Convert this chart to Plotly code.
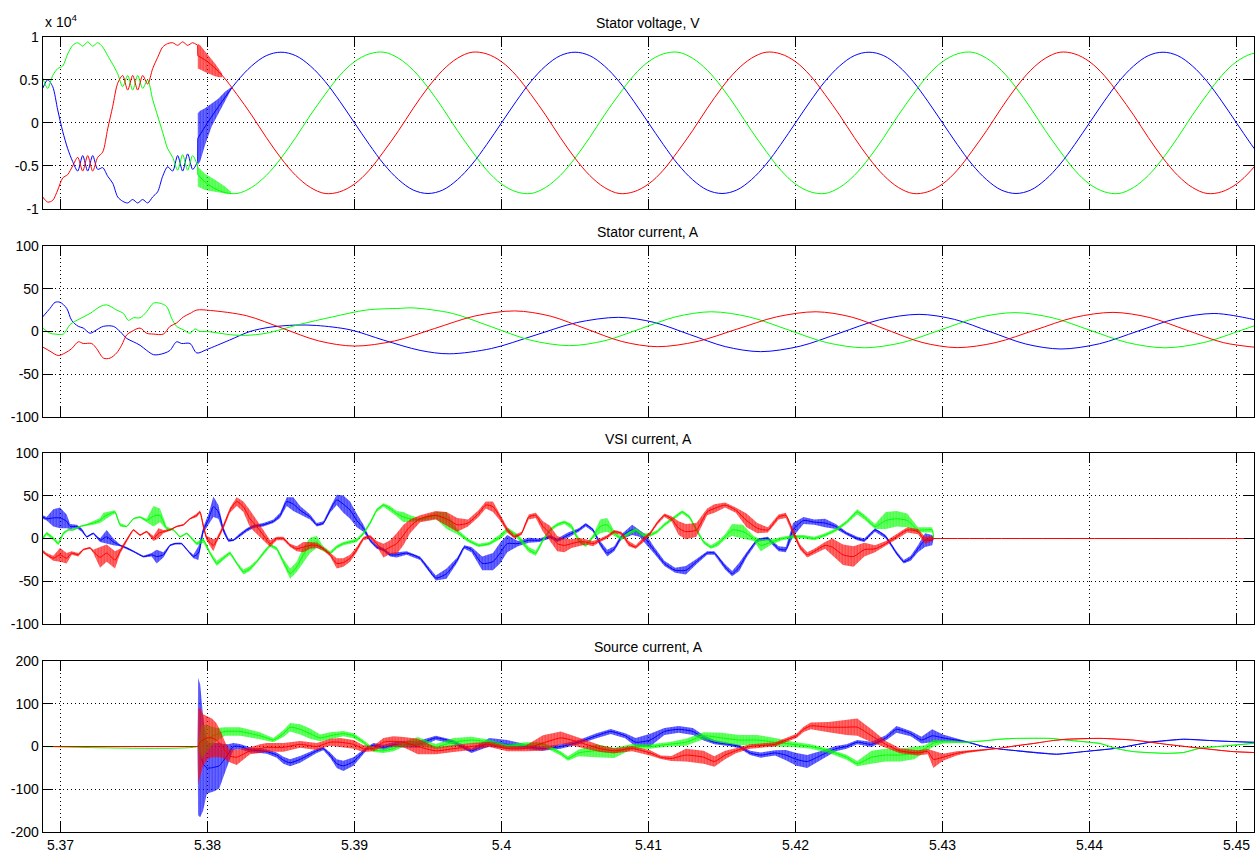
import plotly.graph_objects as go

# ---------------- data (time in s) ----------------
X_TICKS = [5.37, 5.38, 5.39, 5.40, 5.41, 5.42, 5.43, 5.44, 5.45]
X_TICK_LABELS = ["5.37", "5.38", "5.39", "5.4", "5.41", "5.42", "5.43", "5.44", "5.45"]
TITLES = ["Stator voltage, V", "Stator current, A", "VSI current, A", "Source current, A"]

# Panel 1: stator voltage (x 10^4 V)
V_PRE_T = [5.36879, 5.36913, 5.36947, 5.36981, 5.37015, 5.37049, 5.37083, 5.37117, 5.37151, 5.37185,
           5.37219, 5.37253, 5.37287, 5.37321, 5.37355, 5.37389, 5.37423, 5.37457, 5.37491, 5.37525,
           5.37559, 5.37593, 5.37627, 5.37661, 5.37695, 5.37729, 5.37763, 5.37797, 5.37831, 5.37865,
           5.37899, 5.37933]
V_PRE_BLUE = [0.40, 0.50, 0.42, 0.15, -0.10, -0.30, -0.45, -0.56, -0.38, -0.56, -0.38, -0.54, -0.52, -0.62,
              -0.70, -0.86, -0.91, -0.93, -0.89, -0.93, -0.89, -0.93, -0.86, -0.80, -0.62, -0.51, -0.56,
              -0.38, -0.56, -0.36, -0.54, -0.45]
V_PRE_GREEN = [0.52, 0.40, 0.55, 0.63, 0.66, 0.80, 0.90, 0.93, 0.89, 0.94, 0.89, 0.93, 0.88, 0.78, 0.68,
               0.57, 0.42, 0.55, 0.38, 0.55, 0.40, 0.50, 0.27, 0.08, -0.11, -0.30, -0.40, -0.55, -0.37,
               -0.55, -0.38, -0.50]
V_PRE_RED = [-0.86, -0.92, -0.90, -0.78, -0.64, -0.60, -0.50, -0.40, -0.56, -0.38, -0.56, -0.40, -0.34,
             -0.07, 0.19, 0.46, 0.55, 0.38, 0.55, 0.38, 0.55, 0.45, 0.63, 0.76, 0.88, 0.92, 0.93, 0.90,
             0.94, 0.90, 0.93, 0.90]

V_T = [5.37934] + [round(5.380 + 0.001 * k, 3) for k in range(73)]
V_BLUE = [-0.18,
          0, 0.25, 0.48, 0.66, 0.78, 0.82, 0.78, 0.66, 0.48, 0.25, 0, -0.25, -0.48, -0.66, -0.78, -0.82, -0.78, -0.66, -0.48, -0.25,
          0, 0.25, 0.48, 0.66, 0.78, 0.82, 0.78, 0.66, 0.48, 0.25, 0, -0.25, -0.48, -0.66, -0.78, -0.82, -0.78, -0.66, -0.48, -0.25,
          0, 0.25, 0.48, 0.66, 0.78, 0.82, 0.78, 0.66, 0.48, 0.25, 0, -0.25, -0.48, -0.66, -0.78, -0.82, -0.78, -0.66, -0.48, -0.25,
          0, 0.25, 0.48, 0.66, 0.78, 0.82, 0.78, 0.66, 0.48, 0.25, 0, -0.25, -0.48]
V_GREEN = [-0.60,
           -0.71, -0.80, -0.82, -0.75, -0.61, -0.41, -0.17, 0.09, 0.33, 0.55, 0.71, 0.80, 0.82, 0.75, 0.61, 0.41, 0.17, -0.09, -0.33, -0.55,
           -0.71, -0.80, -0.82, -0.75, -0.61, -0.41, -0.17, 0.09, 0.33, 0.55, 0.71, 0.80, 0.82, 0.75, 0.61, 0.41, 0.17, -0.09, -0.33, -0.55,
           -0.71, -0.80, -0.82, -0.75, -0.61, -0.41, -0.17, 0.09, 0.33, 0.55, 0.71, 0.80, 0.82, 0.75, 0.61, 0.41, 0.17, -0.09, -0.33, -0.55,
           -0.71, -0.80, -0.82, -0.75, -0.61, -0.41, -0.17, 0.09, 0.33, 0.55, 0.71, 0.80, 0.82]
V_RED = [0.78,
         0.71, 0.55, 0.33, 0.09, -0.17, -0.41, -0.61, -0.75, -0.82, -0.80, -0.71, -0.55, -0.33, -0.09, 0.17, 0.41, 0.61, 0.75, 0.82, 0.80,
         0.71, 0.55, 0.33, 0.09, -0.17, -0.41, -0.61, -0.75, -0.82, -0.80, -0.71, -0.55, -0.33, -0.09, 0.17, 0.41, 0.61, 0.75, 0.82, 0.80,
         0.71, 0.55, 0.33, 0.09, -0.17, -0.41, -0.61, -0.75, -0.82, -0.80, -0.71, -0.55, -0.33, -0.09, 0.17, 0.41, 0.61, 0.75, 0.82, 0.80,
         0.71, 0.55, 0.33, 0.09, -0.17, -0.41, -0.61, -0.75, -0.82, -0.80, -0.71, -0.55, -0.33]
# switching transients (ripple envelopes)
VB_BAND_T = [5.37934, 5.37950, 5.37983, 5.38029, 5.38073, 5.38119, 5.38165]
VB_BAND_UP = [0.11, 0.14, 0.17, 0.23, 0.28, 0.36, 0.42]
VB_BAND_LO = [-0.49, -0.45, -0.26, -0.04, 0.11, 0.25, 0.40]
VG_BAND_T = [5.37934, 5.37983, 5.38051, 5.38119, 5.38160]
VG_BAND_UP = [-0.51, -0.59, -0.66, -0.74, -0.80]
VG_BAND_LO = [-0.74, -0.78, -0.80, -0.82, -0.83]
VR_BAND_T = [5.37934, 5.37950, 5.37983, 5.38020, 5.38051, 5.38080, 5.38100]
VR_BAND_UP = [0.92, 0.90, 0.83, 0.76, 0.69, 0.62, 0.57]
VR_BAND_LO = [0.63, 0.62, 0.59, 0.56, 0.54, 0.53, 0.53]

# Panel 2: stator current (A)
I_BLUE_T = [5.36879, 5.36929, 5.36963, 5.36997, 5.37042, 5.37076, 5.37121, 5.37155, 5.37201, 5.37246,
            5.37292, 5.37360, 5.37405, 5.37450, 5.37496, 5.37541, 5.37586, 5.37632, 5.37666, 5.37711,
            5.37745, 5.37790, 5.37824, 5.37881, 5.37927, 5.37995, 5.38150, 5.38289, 5.38425, 5.38600,
            5.38743, 5.38970, 5.39197, 5.39446, 5.39644, 5.39932, 5.40221, 5.40509, 5.40797, 5.41039,
            5.41280, 5.41522, 5.41763, 5.42032, 5.42302, 5.42571, 5.42840, 5.43082, 5.43323, 5.43565,
            5.43806, 5.44067, 5.44327, 5.44588, 5.44848, 5.45090, 5.45160]
I_BLUE = [17, 27, 34, 34, 27, 13, 6, 4, -2, 2, 6, 6, 0, -8, -12, -16, -22, -27, -27, -25,
          -22, -12, -14, -14, -25, -21, -10, 0, 5, 7.5, 7, 2, -10, -22, -26, -19.8, -4.75, 10.3, 16.5, 10.6,
          -3.5, -17.6, -23.5, -17.1, -1.75, 13.6, 20, 14.1, -0.2, -14.5, -20.4, -14.3, 0.3, 14.9, 21, 15, 12]
I_GREEN_T = [5.36879, 5.36929, 5.36963, 5.37019, 5.37065, 5.37133, 5.37201, 5.37269, 5.37314, 5.37382,
             5.37428, 5.37462, 5.37496, 5.37541, 5.37586, 5.37632, 5.37677, 5.37722, 5.37757, 5.37790,
             5.37836, 5.37881, 5.37915, 5.37949, 5.37995, 5.38170, 5.38260, 5.38400, 5.38620, 5.38850,
             5.39080, 5.39310, 5.39400, 5.39666, 5.39931, 5.40197, 5.40462, 5.40704, 5.40946, 5.41187,
             5.41429, 5.41689, 5.41949, 5.42209, 5.42469, 5.42725, 5.42981, 5.43236, 5.43492, 5.43748,
             5.44003, 5.44259, 5.44514, 5.44774, 5.45034, 5.45160]
I_GREEN = [4, -2, -3, -3, 8, 15, 21, 29, 31, 25, 21, 13, 16, 16, 23, 33, 33, 29, 15, 6,
           2, -2, 3, 0, 0, -4, -4.5, -2, 8, 17, 25, 27, 27.5, 21.1, 5.5, -10.1, -16.5, -10.7, 3.25, 17.2,
           23, 16.8, 2, -12.8, -19, -13, 1.5, 16, 22, 16, 1.5, -13, -19, -13, 1.5, 9]
I_RED_T = [5.36879, 5.36929, 5.36985, 5.37031, 5.37076, 5.37121, 5.37155, 5.37212, 5.37246, 5.37292,
           5.37337, 5.37382, 5.37416, 5.37450, 5.37484, 5.37541, 5.37586, 5.37632, 5.37700, 5.37745,
           5.37790, 5.37836, 5.37881, 5.37927, 5.38020, 5.38265, 5.38510, 5.38755, 5.39000, 5.39273,
           5.39545, 5.39818, 5.40090, 5.40333, 5.40575, 5.40818, 5.41060, 5.41330, 5.41600, 5.41870,
           5.42140, 5.42380, 5.42620, 5.42860, 5.43100, 5.43365, 5.43630, 5.43895, 5.44160, 5.44410,
           5.44660, 5.44910, 5.45160]
I_RED = [-18, -23, -28, -25, -20, -12, -14, -14, -20, -31, -31, -25, -16, -4, 0, 4, -2, -3, -3, 6,
         10, 17, 21, 25, 24.5, 18.4, 3.75, -10.9, -17, -11, 3.5, 18, 24, 17.9, 3.15, -11.6, -17.7, -11.7, 2.65, 17,
         23, 16.9, 2.1, -12.7, -18.8, -12.8, 1.75, 16.3, 22.3, 16.25, 1.65, -12.95, -19]

# Panel 3: VSI current (A) -- centre value and ripple half-width
VSI_BLUE_T = [5.36879, 5.36906, 5.36951, 5.36997, 5.37042, 5.37065, 5.37110, 5.37144, 5.37178, 5.37223,
              5.37269, 5.37314, 5.37360, 5.37405, 5.37450, 5.37496, 5.37564, 5.37620, 5.37654, 5.37700,
              5.37745, 5.37779, 5.37824, 5.37870, 5.37904, 5.37938, 5.37972, 5.38006, 5.38040, 5.38074,
              5.38108, 5.38142, 5.38176, 5.38221, 5.38267, 5.38312, 5.38380, 5.38448, 5.38494, 5.38539,
              5.38584, 5.38630, 5.38698, 5.38743, 5.38788, 5.38834, 5.38879, 5.38924, 5.38970, 5.39015,
              5.39061, 5.39106, 5.39151, 5.39197, 5.39242, 5.39287, 5.39355, 5.39446, 5.39553, 5.39626,
              5.39699, 5.39747, 5.39796, 5.39869, 5.39942, 5.39990, 5.40039, 5.40112, 5.40185, 5.40258,
              5.40330, 5.40379, 5.40452, 5.40525, 5.40573, 5.40622, 5.40671, 5.40719, 5.40767, 5.40816,
              5.40889, 5.40938, 5.40986, 5.41035, 5.41108, 5.41181, 5.41254, 5.41326, 5.41399, 5.41448,
              5.41521, 5.41569, 5.41618, 5.41667, 5.41740, 5.41812, 5.41885, 5.41934, 5.41983, 5.42055,
              5.42128, 5.42201, 5.42274, 5.42347, 5.42420, 5.42468, 5.42541, 5.42614, 5.42687, 5.42736,
              5.42784, 5.42833, 5.42881, 5.42930, 5.42940]
VSI_BLUE = [25, 23, 24, 24, 20, 14, 14, 10, 2, 6, -2, 2, -4, -8, -11, -15, -21, -19, -21, -19,
            -8, -6, -6, -15, -21, -17, 10, 22, 37, 31, 10, -2, -2, 4, 10, 14, 16, 20, 27, 43,
            40, 33, 25, 16, 18, 33, 45, 40, 33, 21, 12, -2, -10, -13, -19, -19, -17, -23, -46, -41,
            -25, -10, -13, -29, -27, -17, -6, -6, -2, -2, 2, -2, 4, 10, 16, 10, -6, -17, -12, 2,
            10, 6, -2, -13, -29, -37, -37, -27, -17, -17, -33, -41, -33, -19, -2, 0, -12, -13, 10, 21,
            19, 18, 14, 6, 0, -2, 10, 2, -17, -27, -23, -12, -2, -2, 0]
VSI_BLUE_HW = [2, 2, 10, 12, 8, 3, 2, 2, 1, 1, 2, 8, 4, 1, 1, 1, 1, 2, 8, 3,
               1, 1, 1, 1, 2, 8, 4, 6, 12, 8, 3, 2, 1, 2, 2, 2, 2, 2, 3, 5,
               8, 5, 3, 2, 2, 3, 6, 10, 10, 8, 4, 2, 2, 2, 2, 3, 2, 2, 3, 6,
               3, 2, 3, 8, 10, 12, 10, 3, 3, 2, 2, 2, 3, 2, 2, 2, 3, 4, 3, 3,
               6, 4, 6, 4, 3, 3, 5, 3, 2, 2, 3, 3, 5, 3, 2, 2, 3, 3, 8, 4,
               3, 5, 3, 2, 2, 2, 2, 2, 2, 2, 3, 4, 8, 6, 0]
VSI_GREEN_T = [5.36879, 5.36906, 5.36951, 5.36985, 5.37019, 5.37053, 5.37087, 5.37133, 5.37178, 5.37223,
               5.37269, 5.37292, 5.37337, 5.37371, 5.37405, 5.37450, 5.37496, 5.37541, 5.37586, 5.37632,
               5.37677, 5.37722, 5.37768, 5.37813, 5.37859, 5.37893, 5.37927, 5.37972, 5.38017, 5.38063,
               5.38108, 5.38153, 5.38199, 5.38244, 5.38289, 5.38335, 5.38380, 5.38426, 5.38471, 5.38516,
               5.38562, 5.38607, 5.38652, 5.38698, 5.38743, 5.38788, 5.38834, 5.38879, 5.38924, 5.38970,
               5.39015, 5.39061, 5.39106, 5.39151, 5.39197, 5.39242, 5.39287, 5.39333, 5.39378, 5.39446,
               5.39553, 5.39626, 5.39699, 5.39772, 5.39844, 5.39917, 5.39990, 5.40039, 5.40112, 5.40185,
               5.40233, 5.40282, 5.40330, 5.40379, 5.40428, 5.40476, 5.40525, 5.40573, 5.40622, 5.40671,
               5.40719, 5.40767, 5.40816, 5.40865, 5.40913, 5.40962, 5.41011, 5.41059, 5.41108, 5.41181,
               5.41229, 5.41278, 5.41326, 5.41375, 5.41424, 5.41472, 5.41521, 5.41569, 5.41642, 5.41715,
               5.41764, 5.41837, 5.41910, 5.41983, 5.42055, 5.42128, 5.42201, 5.42274, 5.42347, 5.42420,
               5.42468, 5.42541, 5.42614, 5.42687, 5.42760, 5.42833, 5.42881, 5.42930, 5.42940]
VSI_GREEN = [0, 6, 0, -6, 6, 10, 10, 14, 16, 18, 21, 25, 29, 31, 16, 14, 23, 25, 21, 26,
             27, 12, 10, 2, 6, 0, -6, -2, -17, -29, -23, -17, -29, -39, -35, -27, -17, -8, -12, -27,
             -41, -33, -19, -8, -4, -12, -17, -10, -6, -4, -2, 6, 18, 33, 39, 35, 29, 25, 23, 22,
             27, 21, 8, -2, -8, -6, 2, 10, 2, -13, -17, -2, 10, 16, 19, 14, -2, -8, 2, 14,
             16, 6, 0, 6, 10, 4, 4, 8, 16, 25, 31, 25, 10, -4, -10, -6, 2, 10, 8, 0,
             -8, -4, 0, 2, 2, 0, 4, 10, 19, 31, 25, 14, 21, 23, 21, 10, 10, 10, 0]
VSI_GREEN_HW = [2, 2, 2, 2, 2, 1, 1, 1, 1, 2, 3, 5, 3, 2, 2, 1, 1, 1, 2, 12,
                8, 2, 1, 1, 1, 1, 2, 3, 2, 3, 2, 2, 2, 3, 3, 2, 2, 2, 2, 3,
                6, 6, 9, 9, 7, 3, 2, 2, 2, 2, 2, 2, 2, 2, 2, 3, 3, 6, 4, 2,
                4, 10, 3, 2, 2, 2, 3, 3, 3, 3, 3, 2, 2, 2, 2, 3, 3, 2, 2, 8,
                8, 3, 2, 2, 2, 2, 2, 2, 2, 2, 2, 2, 2, 2, 2, 3, 3, 7, 8, 3,
                7, 3, 2, 2, 2, 2, 2, 2, 2, 3, 3, 3, 10, 9, 8, 3, 3, 3, 0]
VSI_RED_T = [5.36879, 5.36906, 5.36951, 5.36997, 5.37042, 5.37076, 5.37121, 5.37155, 5.37201, 5.37223,
             5.37269, 5.37314, 5.37371, 5.37405, 5.37450, 5.37496, 5.37541, 5.37586, 5.37632, 5.37666,
             5.37700, 5.37745, 5.37790, 5.37836, 5.37881, 5.37927, 5.37949, 5.37972, 5.37995, 5.38040,
             5.38063, 5.38108, 5.38153, 5.38199, 5.38244, 5.38289, 5.38335, 5.38380, 5.38426, 5.38471,
             5.38516, 5.38562, 5.38607, 5.38652, 5.38698, 5.38743, 5.38788, 5.38834, 5.38879, 5.38924,
             5.38970, 5.39015, 5.39061, 5.39106, 5.39151, 5.39197, 5.39242, 5.39287, 5.39333, 5.39378,
             5.39446, 5.39553, 5.39626, 5.39699, 5.39772, 5.39844, 5.39893, 5.39942, 5.39990, 5.40039,
             5.40087, 5.40136, 5.40185, 5.40233, 5.40282, 5.40330, 5.40379, 5.40428, 5.40476, 5.40525,
             5.40573, 5.40622, 5.40671, 5.40719, 5.40767, 5.40816, 5.40865, 5.40913, 5.40962, 5.41011,
             5.41059, 5.41108, 5.41156, 5.41205, 5.41254, 5.41326, 5.41399, 5.41448, 5.41521, 5.41594,
             5.41667, 5.41740, 5.41812, 5.41885, 5.41934, 5.41983, 5.42031, 5.42080, 5.42128, 5.42201,
             5.42250, 5.42323, 5.42395, 5.42468, 5.42541, 5.42614, 5.42687, 5.42760, 5.42833, 5.42881,
             5.42930, 5.42940, 5.45200]
VSI_RED = [-15, -19, -23, -19, -23, -17, -19, -13, -11, -15, -22, -17, -25, -15, -2, 10, 4, 8, 0, 6,
           8, 10, 14, 16, 23, 27, 31, 14, 0, -8, -2, 14, 33, 43, 37, 23, 14, 4, -6, 0,
           0, -8, -12, -10, -8, -8, -12, -19, -29, -28, -23, -13, 0, 2, -6, -14, -10, -6, 4, 14,
           23, 27, 23, 16, 18, 29, 39, 37, 25, 10, 2, 6, 25, 27, 14, 6, -6, -8, -6, -4,
           -4, -6, -2, 2, 8, 6, -6, -10, -2, 6, 18, 27, 23, 12, 8, 10, 31, 35, 39, 33,
           21, 12, 10, 25, 27, 8, -10, -19, -15, -8, -10, -19, -21, -13, -12, -6, 2, 10, 8, -2,
           0, 0, 0]
VSI_RED_HW = [2, 2, 3, 8, 6, 2, 2, 1, 1, 2, 12, 10, 10, 3, 2, 1, 1, 1, 3, 6,
              2, 1, 1, 1, 1, 2, 2, 3, 3, 7, 3, 3, 3, 5, 6, 10, 8, 6, 4, 2,
              2, 2, 3, 6, 4, 3, 2, 2, 6, 5, 4, 3, 2, 2, 3, 8, 8, 12, 12, 8,
              4, 5, 8, 8, 4, 4, 4, 6, 4, 3, 2, 2, 3, 3, 6, 9, 9, 8, 5, 5,
              3, 3, 2, 2, 2, 2, 3, 2, 3, 2, 2, 2, 3, 8, 9, 8, 4, 5, 3, 3,
              8, 6, 3, 3, 3, 4, 3, 3, 3, 4, 10, 12, 12, 8, 4, 3, 3, 3, 3, 4,
              3, 0, 0]

# Panel 4: source current (A) -- centre value and ripple half-width
SRC_BLUE_T = [5.36879, 5.37933, 5.37936, 5.37950, 5.37970, 5.37995, 5.38020, 5.38050, 5.38080, 5.38110,
              5.38140, 5.38176, 5.38221, 5.38289, 5.38357, 5.38403, 5.38471, 5.38516, 5.38562, 5.38630,
              5.38698, 5.38743, 5.38788, 5.38834, 5.38879, 5.38924, 5.38993, 5.39038, 5.39083, 5.39129,
              5.39197, 5.39265, 5.39333, 5.39431, 5.39553, 5.39674, 5.39796, 5.39917, 5.40039, 5.40160,
              5.40282, 5.40403, 5.40525, 5.40646, 5.40743, 5.40841, 5.40913, 5.41011, 5.41108, 5.41205,
              5.41302, 5.41375, 5.41448, 5.41545, 5.41618, 5.41691, 5.41764, 5.41861, 5.41934, 5.42007,
              5.42080, 5.42177, 5.42274, 5.42347, 5.42420, 5.42517, 5.42614, 5.42687, 5.42784, 5.42857,
              5.42930, 5.43003, 5.43097, 5.43165, 5.43278, 5.43391, 5.43505, 5.43618, 5.43777, 5.43958,
              5.44185, 5.44412, 5.44639, 5.44866, 5.45092, 5.45200]
SRC_BLUE = [0, 0, 0, -10, -40, -50, -50, -48, -45, -32,
            -18, 0, 0, -8, -10, -12, -20, -32, -38, -30,
            -18, -10, -5, -20, -40, -45, -35, -20, -5, 3,
            -2, 4, 5, 5, 20, 10, -10, 10, 5, 0,
            -5, 0, 10, 25, 35, 25, 10, 15, 35, 40,
            35, 20, 10, 5, 0, -15, -20, -15, -20, -30,
            -35, -20, -5, 0, 10, 5, 20, 40, 30, 15,
            25, 20, 15, 11, 0, -6, -10, -14, -18, -12,
            -4, 10, 17, 13, 10, 9]
SRC_BLUE_HW = [0, 0, 160, 155, 110, 60, 58, 56, 53, 38,
               23, 8, 6, 6, 5, 5, 6, 8, 8, 8,
               6, 5, 4, 6, 10, 12, 10, 6, 4, 5,
               6, 6, 8, 8, 5, 5, 5, 10, 10, 6,
               5, 5, 5, 6, 6, 6, 10, 15, 8, 8,
               8, 6, 5, 4, 4, 5, 6, 6, 12, 15,
               15, 10, 6, 5, 5, 6, 6, 8, 6, 8,
               15, 8, 4, 2, 1, 1, 1, 1, 1, 1,
               1, 1, 1, 1, 1, 1]
SRC_GREEN_T = [5.36879, 5.37933, 5.37960, 5.38000, 5.38060, 5.38119, 5.38221, 5.38357, 5.38403, 5.38448,
               5.38516, 5.38562, 5.38630, 5.38698, 5.38766, 5.38834, 5.38924, 5.38993, 5.39061, 5.39129,
               5.39197, 5.39265, 5.39333, 5.39431, 5.39553, 5.39674, 5.39796, 5.39917, 5.40039, 5.40160,
               5.40282, 5.40403, 5.40452, 5.40525, 5.40646, 5.40767, 5.40889, 5.41011, 5.41132, 5.41254,
               5.41375, 5.41497, 5.41618, 5.41740, 5.41861, 5.41983, 5.42104, 5.42225, 5.42347, 5.42420,
               5.42517, 5.42614, 5.42711, 5.42808, 5.42880, 5.42940, 5.43003, 5.43097, 5.43165, 5.43278,
               5.43391, 5.43505, 5.43732, 5.43845, 5.44072, 5.44185, 5.44299, 5.44525, 5.44639, 5.44752,
               5.44979, 5.45200]
SRC_GREEN = [0, 0, 10, 20, 28, 35, 35, 25, 20, 15,
             30, 45, 40, 30, 20, 25, 30, 25, 10, -8,
             -10, -5, 5, 12, 0, 10, 15, 10, 0, 5,
             5, -16, -28, -15, -10, -15, 0, 0, 5, 10,
             25, 20, 15, 15, 10, 5, 0, -10, -25, -40,
             -25, -20, -20, -15, -5, 8, 11, 10, 10, 13,
             17, 19, 19, 15, 7, -5, -12, -16, -14, -4,
             3, 10]
SRC_GREEN_HW = [0, 0, 40, 30, 15, 10, 10, 8, 6, 5,
                8, 10, 12, 12, 8, 8, 6, 6, 5, 5,
                5, 6, 6, 10, 6, 10, 8, 6, 5, 5,
                5, 5, 5, 8, 15, 12, 6, 5, 5, 8,
                8, 12, 12, 12, 10, 6, 5, 5, 6, 6,
                15, 15, 15, 15, 8, 8, 4, 2, 1, 1,
                1, 1, 1, 1, 1, 1, 1, 1, 1, 1,
                1, 1]
SRC_RED_T = [5.36879, 5.37933, 5.37936, 5.37950, 5.37970, 5.38000, 5.38030, 5.38060, 5.38090, 5.38120,
             5.38150, 5.38199, 5.38289, 5.38357, 5.38403, 5.38516, 5.38630, 5.38743, 5.38834, 5.38901,
             5.38993, 5.39061, 5.39129, 5.39197, 5.39265, 5.39333, 5.39431, 5.39553, 5.39674, 5.39796,
             5.39917, 5.40039, 5.40160, 5.40282, 5.40403, 5.40476, 5.40573, 5.40671, 5.40767, 5.40889,
             5.41011, 5.41083, 5.41156, 5.41254, 5.41375, 5.41448, 5.41521, 5.41594, 5.41691, 5.41861,
             5.41934, 5.42007, 5.42055, 5.42104, 5.42225, 5.42347, 5.42420, 5.42517, 5.42614, 5.42711,
             5.42833, 5.42900, 5.42938, 5.43003, 5.43097, 5.43165, 5.43278, 5.43391, 5.43505, 5.43618,
             5.43732, 5.43845, 5.44072, 5.44299, 5.44525, 5.44752, 5.44979, 5.45200]
SRC_RED = [0, 0, 0, 10, 15, 20, 20, 15, 5, -10,
           -22, -25, -10, -5, -2, -2, 5, 0, 10, 10,
           5, -5, -5, 10, 12, 10, 0, -10, -5, 0,
           5, -5, -5, 8, 20, 15, 5, -5, -10, -5,
           -15, -25, -28, -20, -25, -35, -20, -10, 0, 5,
           15, 25, 40, 48, 45, 45, 45, 25, 5, -10,
           -15, -12, -30, -25, -16, -12, -8, -4, 2, 7,
           13, 17, 19, 15, 5, -4, -12, -15]
SRC_RED_HW = [0, 0, 88, 80, 60, 50, 45, 40, 30, 20,
              15, 18, 8, 10, 10, 10, 8, 8, 8, 10,
              10, 8, 6, 10, 12, 12, 18, 8, 8, 8,
              6, 6, 6, 18, 15, 12, 10, 8, 6, 6,
              6, 4, 6, 15, 15, 12, 10, 6, 5, 5,
              5, 5, 6, 8, 12, 18, 20, 15, 8, 6,
              6, 6, 20, 8, 5, 3, 1, 1, 1, 1,
              1, 1, 1, 1, 1, 1, 1, 1]

# ---------------- styling ----------------
LINE = {"b": "rgb(0,0,255)", "g": "rgb(0,255,0)", "r": "rgb(255,0,0)"}
FILL = {"b": "rgba(0,0,255,0.5)", "g": "rgba(0,255,0,0.5)", "r": "rgba(255,0,0,0.5)"}
FONT = "Liberation Sans, Arial, sans-serif"
FS = 14

W, H = 1257, 854
PLOT_L, PLOT_R = 42.7, 1254.0
PANELS_PX = [(36.7, 209.0), (245.7, 417.3), (452.7, 624.3), (660.7, 832.3)]
X_RANGE = [5.368789, 5.451190]
Y_RANGES = [[-1, 1], [-100, 100], [-100, 100], [-200, 200]]
Y_TICKS = [[-1, -0.5, 0, 0.5, 1], [-100, -50, 0, 50, 100], [-100, -50, 0, 50, 100],
           [-200, -100, 0, 100, 200]]
Y_TICK_LABELS = [["-1", "-0.5", "0", "0.5", "1"], ["-100", "-50", "0", "50", "100"],
                 ["-100", "-50", "0", "50", "100"], ["-200", "-100", "0", "100", "200"]]

fig = go.Figure()


def ax(i):
    return ("x" if i == 1 else f"x{i}"), ("y" if i == 1 else f"y{i}")


def add_line(i, t, v, c, shape="spline", smoothing=1.0):
    xa, ya = ax(i)
    line = dict(color=LINE[c], width=1, shape=shape)
    if shape == "spline":
        line["smoothing"] = smoothing
    fig.add_trace(go.Scatter(x=t, y=v, mode="lines", line=line, xaxis=xa, yaxis=ya,
                             showlegend=False, hoverinfo="skip"))


def add_band(i, t, up, lo, c):
    # switching-ripple envelope, drawn as dense vertical hatching over a tinted fill
    xa, ya = ax(i)
    fig.add_trace(go.Scatter(x=list(t) + list(t)[::-1], y=list(up) + list(lo)[::-1],
                             mode="lines", fill="toself", fillcolor=FILL[c],
                             fillpattern=dict(shape="|", fgcolor=LINE[c], size=3, solidity=0.6,
                                              fillmode="overlay"),
                             line=dict(width=0, color=FILL[c]), xaxis=xa, yaxis=ya,
                             showlegend=False, hoverinfo="skip"))


def add_noisy(i, t, c_vals, hw, c):
    up = [a + b for a, b in zip(c_vals, hw)]
    lo = [a - b for a, b in zip(c_vals, hw)]
    add_band(i, t, up, lo, c)
    add_line(i, t, c_vals, c, smoothing=0.6)


# Panel 1
for c, pre, post, bt, bu, bl in [("b", V_PRE_BLUE, V_BLUE, VB_BAND_T, VB_BAND_UP, VB_BAND_LO),
                                  ("g", V_PRE_GREEN, V_GREEN, VG_BAND_T, VG_BAND_UP, VG_BAND_LO),
                                  ("r", V_PRE_RED, V_RED, VR_BAND_T, VR_BAND_UP, VR_BAND_LO)]:
    add_line(1, V_PRE_T, pre, c, smoothing=0.8)
    add_line(1, [V_PRE_T[-1], V_T[0]], [pre[-1], post[0]], c, shape="linear")
    add_band(1, bt, bu, bl, c)
    add_line(1, V_T, post, c, smoothing=1.0)

# Panel 2
add_line(2, I_BLUE_T, I_BLUE, "b", smoothing=0.9)
add_line(2, I_GREEN_T, I_GREEN, "g", smoothing=0.9)
add_line(2, I_RED_T, I_RED, "r", smoothing=0.9)

# Panel 3
add_noisy(3, VSI_BLUE_T, VSI_BLUE, VSI_BLUE_HW, "b")
add_noisy(3, VSI_GREEN_T, VSI_GREEN, VSI_GREEN_HW, "g")
add_noisy(3, VSI_RED_T, VSI_RED, VSI_RED_HW, "r")

# Panel 4
add_noisy(4, SRC_BLUE_T, SRC_BLUE, SRC_BLUE_HW, "b")
add_noisy(4, SRC_GREEN_T, SRC_GREEN, SRC_GREEN_HW, "g")
add_noisy(4, SRC_RED_T, SRC_RED, SRC_RED_HW, "r")

layout = dict(width=W, height=H, margin=dict(l=0, r=0, t=0, b=0),
              paper_bgcolor="white", plot_bgcolor="white",
              font=dict(family=FONT, size=FS, color="black"), showlegend=False)

xdom = [PLOT_L / W, PLOT_R / W]
annotations = []
for i in range(1, 5):
    top, bot = PANELS_PX[i - 1]
    xa_name = "xaxis" if i == 1 else f"xaxis{i}"
    ya_name = "yaxis" if i == 1 else f"yaxis{i}"
    layout[xa_name] = dict(domain=xdom, range=X_RANGE, anchor=ax(i)[1],
                           tickmode="array", tickvals=X_TICKS, ticktext=X_TICK_LABELS,
                           showticklabels=(i == 4), ticks="inside", ticklen=10, tickcolor="black",
                           showline=True, linecolor="black", linewidth=1, mirror="ticks",
                           showgrid=True, gridcolor="black", gridwidth=1, griddash="1px,3px",
                           zeroline=False, tickfont=dict(size=FS, family=FONT), automargin=False)
    layout[ya_name] = dict(domain=[1 - bot / H, 1 - top / H], range=Y_RANGES[i - 1], anchor=ax(i)[0],
                           tickmode="array", tickvals=Y_TICKS[i - 1], ticktext=Y_TICK_LABELS[i - 1],
                           ticks="inside", ticklen=10, tickcolor="black",
                           showline=True, linecolor="black", linewidth=1, mirror="ticks",
                           showgrid=True, gridcolor="black", gridwidth=1, griddash="1px,3px",
                           zeroline=False, tickfont=dict(size=FS, family=FONT), automargin=False)
    annotations.append(dict(text=TITLES[i - 1], xref="paper", yref="paper",
                            x=(xdom[0] + xdom[1]) / 2, y=1 - (top - 14) / H,
                            xanchor="center", yanchor="middle", showarrow=False,
                            font=dict(size=FS, family=FONT, color="black")))

annotations.append(dict(text="x 10<sup>4</sup>", xref="paper", yref="paper",
                        x=43 / W, y=1 - 21 / H, xanchor="left", yanchor="middle", showarrow=False,
                        font=dict(size=FS, family=FONT, color="black")))
layout["annotations"] = annotations
fig.update_layout(**layout)

fig.write_html("out.html")
